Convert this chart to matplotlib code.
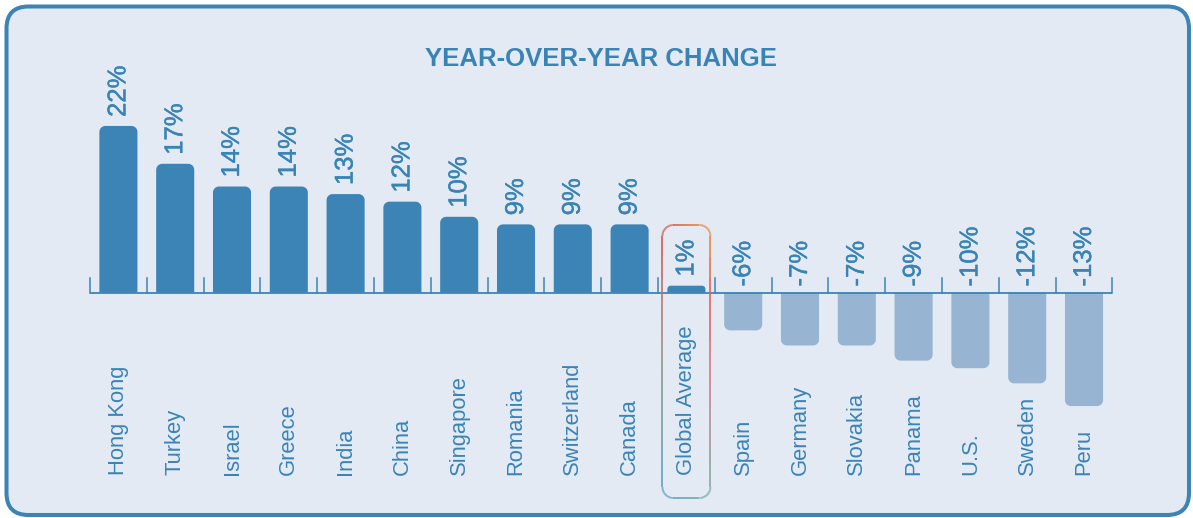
import numpy as np
import matplotlib
matplotlib.use('Agg')
import matplotlib.pyplot as plt
import matplotlib.patheffects as pe
from matplotlib.patches import FancyBboxPatch, Polygon
from matplotlib.collections import LineCollection
from matplotlib.colors import to_rgb

# data
countries = ['Hong Kong', 'Turkey', 'Israel', 'Greece', 'India', 'China', 'Singapore',
             'Romania', 'Switzerland', 'Canada', 'Global Average', 'Spain', 'Germany',
             'Slovakia', 'Panama', 'U.S.', 'Sweden', 'Peru']
# bar lengths as drawn (the printed labels are rounded differently)
bar_values = [22, 17, 14, 14, 13, 12, 10, 9, 9, 9, 0.9, -5, -7, -7, -9, -10, -12, -15]
value_labels = ['22%', '17%', '14%', '14%', '13%', '12%', '10%', '9%', '9%', '9%', '1%',
                '-6%', '-7%', '-7%', '-9%', '-10%', '-12%', '-13%']
highlight = 'Global Average'

blue = '#3b84b5'
light = '#97b4d3'
bg = '#e3eaf4'
txt = '#3a84b5'

plt.rcParams['font.family'] = ['Liberation Sans', 'DejaVu Sans']

W, H = 1193, 518
fig = plt.figure(figsize=(W / 100, H / 100), dpi=100)
fig.patch.set_facecolor('white')

# outer rounded frame
frame = FancyBboxPatch((0.065, 0.03), 11.825, 5.085,
                       boxstyle='round,pad=0,rounding_size=0.22',
                       transform=fig.dpi_scale_trans, facecolor=bg,
                       edgecolor=blue, linewidth=2.9, zorder=-5)
fig.patches.append(frame)

# layout: category pitch / value scale in pixels
x0_px, pitch = 118.4, 56.8
base_px, scale = 292.5, 7.57
ax = fig.add_axes([0, 0, 1, 1])
ax.set_xlim(-x0_px / pitch, (W - x0_px) / pitch)
ax.set_ylim((base_px - H) / scale, base_px / scale)
ax.axis('off')
ax.patch.set_alpha(0)

px_x = 1.0 / pitch      # one pixel in x data units
px_y = 1.0 / scale      # one pixel in y data units

def ypix(p):
    return (base_px - p) / scale

def bar_shape(xc, half, v, r_px):
    # bar from 0 to v, rounded only at the far end
    s = 1 if v > 0 else -1
    ry = min(r_px * px_y, abs(v) / 2)
    rx = ry / px_y * px_x
    end = v - s * ry
    t1 = np.radians(np.linspace(0, 90, 12))
    right = [(xc + half - rx + rx * np.cos(a), end + s * ry * np.sin(a)) for a in t1]
    left = [(xc - half + rx - rx * np.sin(a), end + s * ry * np.cos(a)) for a in t1]
    return [(xc + half, 0)] + right + left + [(xc - half, 0)]

heavy = [pe.withStroke(linewidth=0.3, foreground=txt)]
bw = 0.67
for i, (c, v) in enumerate(zip(countries, bar_values)):
    col = blue if v > 0 else light
    ax.add_patch(Polygon(bar_shape(i, bw / 2, v, 6), closed=True, facecolor=col,
                         edgecolor='none', zorder=3))
    lab_y = v + 9 * px_y if v > 0 else 6 * px_y
    ax.text(i, lab_y, value_labels[i], rotation=90, ha='center', va='bottom',
            fontsize=18.5, color=txt, zorder=4, path_effects=heavy)
    ax.text(i, ypix(475), c, rotation=90, ha='center', va='bottom',
            fontsize=15.8, color=txt, zorder=4)

# baseline and ticks
n = len(countries)
ax.plot([-0.5, n - 0.5], [0, 0], color=blue, lw=1.3, zorder=4, solid_capstyle='butt')
for k in range(n + 1):
    ax.plot([k - 0.5, k - 0.5], [0, 15 * px_y], color=blue, lw=1.1, zorder=2)

# gradient outline around the highlighted category
gi = countries.index(highlight)
hx = 24 * px_x
top, bot = ypix(225), ypix(498)
rx, ry = 11 * px_x, 11 * px_y
pts = []
corners = [(gi + hx - rx, top - ry, 0, 90), (gi - hx + rx, top - ry, 90, 180),
           (gi - hx + rx, bot + ry, 180, 270), (gi + hx - rx, bot + ry, 270, 360)]
for cx, cy, a0, a1 in corners:
    t = np.radians(np.linspace(a0, a1, 20))
    pts += list(zip(cx + rx * np.cos(t), cy + ry * np.sin(t)))
pts.append(pts[0])
pts = np.array(pts)
dense = []
for a, b in zip(pts[:-1], pts[1:]):
    for s in np.linspace(0, 1, 12, endpoint=False):
        dense.append(a + (b - a) * s)
dense.append(pts[-1])
dense = np.array(dense)
u = (dense[:, 0] - (gi - hx)) / (2 * hx)
w = (top - dense[:, 1]) / (top - bot)

def side_colour(stops, hexes, w):
    rgb = np.array([to_rgb(h) for h in hexes])
    return np.stack([np.interp(w, stops, rgb[:, k]) for k in range(3)], axis=1)

left_c = side_colour([0, 0.4, 0.6, 1], ['#e04a46', '#a88c80', '#7ea090', '#5aa2cc'], w)
right_c = side_colour([0, 0.25, 0.55, 1], ['#f0963c', '#e45a5a', '#d87a8c', '#78b0a8'], w)
cols = (1 - u)[:, None] * left_c + u[:, None] * right_c
segs = np.stack([dense[:-1], dense[1:]], axis=1)
seg_cols = (cols[:-1] + cols[1:]) / 2
ax.add_collection(LineCollection(segs, colors=seg_cols, linewidths=1.2, zorder=5))

fig.text(601 / W, 1 - 59 / H, 'YEAR-OVER-YEAR CHANGE', ha='center', va='center',
         fontsize=18.5, color=txt, fontweight='bold')

fig.savefig('out.png', dpi=100)
